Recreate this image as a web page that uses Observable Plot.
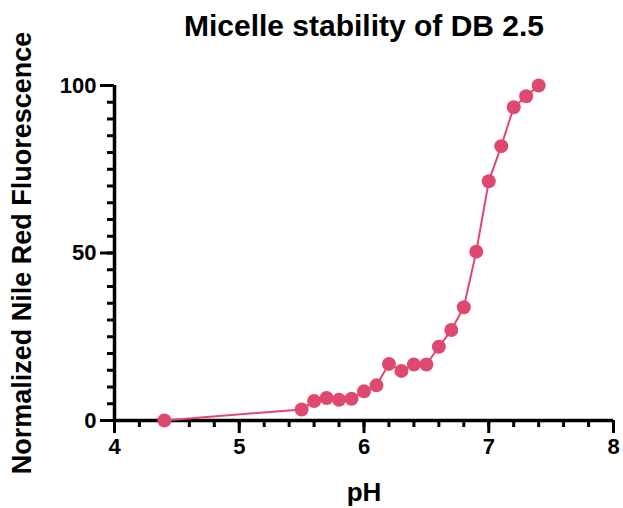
<!DOCTYPE html>
<html>
<head>
<meta charset="utf-8">
<script src="https://cdn.jsdelivr.net/npm/d3@7"></script>
<script src="https://cdn.jsdelivr.net/npm/@observablehq/plot@0.6"></script>
<style>
  body { margin: 0; background: #fff; }
  svg { overflow: visible; }
</style>
</head>
<body>
<div id="chart"></div>
<script>
const pH = [4.4, 5.5, 5.6, 5.7, 5.8, 5.9, 6.0, 6.1, 6.2, 6.3, 6.4, 6.5, 6.6, 6.7, 6.8, 6.9, 7.0, 7.1, 7.2, 7.3, 7.4];
const fluorescence = [0, 3.3, 5.8, 6.7, 6.2, 6.5, 8.7, 10.5, 16.9, 14.8, 16.7, 16.7, 22.0, 27.0, 33.8, 50.4, 71.4, 81.9, 93.5, 96.8, 100];
const xMajorTicks = [4, 5, 6, 7, 8];
const yMajorTicks = [0, 50, 100];
const title = "Micelle stability of DB 2.5";
const xLabel = "pH";
const yLabel = "Normalized Nile Red Fluorescence";

const data = pH.map((p, i) => ({pH: p, value: fluorescence[i]}));
const xMinor = d3.range(40, 81, 2).map(d => d / 10);
const yMinor = d3.range(0, 101, 5);
const color = "#e0496f";
const font = "'Liberation Sans', Arial, sans-serif";

const chart = Plot.plot({
  width: 623,
  height: 508,
  marginLeft: 114,
  marginRight: 10,
  marginTop: 85,
  marginBottom: 88,
  style: {fontFamily: font, fontWeight: "bold", color: "#000", background: "#fff"},
  x: {domain: [4, 8]},
  y: {domain: [0, 100]},
  marks: [
    Plot.axisX({ticks: xMinor, tickSize: 7, strokeWidth: 3, text: null, label: null}),
    Plot.axisX({ticks: xMajorTicks, tickSize: 13, strokeWidth: 3, tickPadding: 5, fontSize: 22, fontWeight: "bold", label: null, tickFormat: d3.format("d")}),
    Plot.axisY({ticks: yMinor, tickSize: 7, strokeWidth: 3, text: null, label: null}),
    Plot.axisY({ticks: yMajorTicks, tickSize: 14, strokeWidth: 3, tickPadding: 4, fontSize: 22, fontWeight: "bold", label: null, tickFormat: d3.format("d")}),
    Plot.ruleY([0], {stroke: "#000", strokeWidth: 3.5}),
    Plot.ruleX([4], {y1: 0, y2: 100, stroke: "#000", strokeWidth: 3.5}),
    Plot.line(data, {x: "pH", y: "value", stroke: color, strokeWidth: 2}),
    Plot.dot(data, {x: "pH", y: "value", r: 7, fill: color, stroke: "none"}),
    Plot.text([title], {frameAnchor: "top", dy: -59, fontSize: 30, fontWeight: "bold", fill: "#000", lineAnchor: "middle"}),
    Plot.text([xLabel], {frameAnchor: "bottom", dy: 72, fontSize: 26, fontWeight: "bold", fill: "#000", lineAnchor: "middle"}),
    Plot.text([yLabel], {frameAnchor: "left", dx: -92, rotate: -90, fontSize: 27, fontWeight: "bold", fill: "#000", textAnchor: "middle", lineAnchor: "middle"})
  ]
});
document.getElementById("chart").append(chart);
</script>
</body>
</html>
